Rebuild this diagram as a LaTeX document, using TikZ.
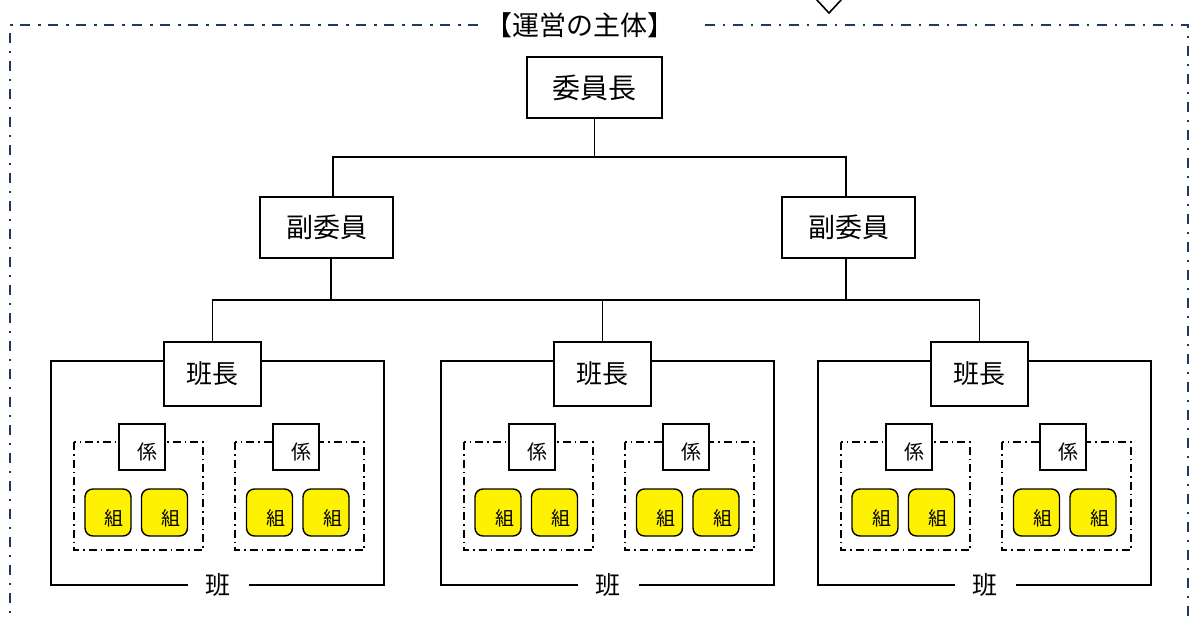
\documentclass[tikz,border=0pt]{standalone}
\usepackage{fontspec}
\newfontfamily\jp{Noto Sans CJK JP}
\definecolor{navy}{RGB}{31,56,100}
\begin{document}
\begin{tikzpicture}[x=1pt,y=-1pt,
  every node/.style={font=\jp, inner sep=0pt},
  solidline/.style={line width=1.6pt},
  box/.style={draw, line width=1.6pt, fill=white, inner sep=0pt},
  bigtext/.style={font=\jp\fontsize{27}{32}\selectfont},
  outerframe/.style={draw=navy, line width=2.8pt, dash pattern=on 10pt off 7.5pt on 2.5pt off 8pt},
  innerframe/.style={draw, line width=1.4pt, dash pattern=on 8pt off 4pt on 1.5pt off 4pt},
  kumi/.style={draw, line width=1.4pt, fill=yellow, rounded corners=8pt, minimum width=46pt, minimum height=47pt, font=\jp\fontsize{19}{22}\selectfont},
  kakari/.style={box, minimum width=46pt, minimum height=46pt, font=\jp\fontsize{20}{24}\selectfont},
  ]
\useasboundingbox (0,0) rectangle (1192,619);

% outer frame
\draw[outerframe] (478,25) -- (10,25) -- (10,625);
\draw[outerframe] (705,25) -- (1188,25) -- (1188,625);
\node[bigtext] (title) at (580,25) {【運営の主体】};
\draw[solidline] (816,-1) -- (829,13) -- (842,-1);

% top of tree
\node[box, font=\jp\fontsize{28}{32}\selectfont, minimum width=135pt, minimum height=61pt] (chair) at (594.5,87.5) {委員長};
\node[box, bigtext, minimum width=133pt, minimum height=61pt] (vice1) at (326.5,227.5) {副委員};
\node[box, bigtext, minimum width=133pt, minimum height=61pt] (vice2) at (848.5,227.5) {副委員};

\coordinate (hy) at (0,157);
\coordinate (by) at (0,300);

% groups
\foreach \L/\n in {51/1,441/2,818/3}{
  \draw[solidline] (\L,361) rectangle (\L+333,585);
  \draw[innerframe] (\L+23,442) rectangle (\L+152,550);
  \draw[innerframe] (\L+184,442) rectangle (\L+313,550);
  \node[box, font=\jp\fontsize{26}{30}\selectfont, minimum width=97pt, minimum height=64pt] (lead\n) at (\L+161.5,374) {班長};
  \node[fill=white, inner xsep=18pt, inner ysep=2pt, font=\jp\fontsize{25}{30}\selectfont] (han\n) at (\L+167,585) {班};
  \node[kakari] (kakA\n) at (\L+91,447) {\hspace*{11pt}\raisebox{-5pt}[\height][\depth]{係}};
  \node[kakari] (kakB\n) at (\L+245,447) {\hspace*{11pt}\raisebox{-5pt}[\height][\depth]{係}};
  \node[kumi] (kumA\n) at (\L+57,512.5) {\hspace*{13pt}\raisebox{-5.5pt}[\height][\depth]{組}};
  \node[kumi] (kumB\n) at (\L+113.5,512.5) {\hspace*{13pt}\raisebox{-5.5pt}[\height][\depth]{組}};
  \node[kumi] (kumC\n) at (\L+218.5,512.5) {\hspace*{13pt}\raisebox{-5.5pt}[\height][\depth]{組}};
  \node[kumi] (kumD\n) at (\L+275,512.5) {\hspace*{13pt}\raisebox{-5.5pt}[\height][\depth]{組}};
}

% connectors
\draw[solidline] (chair.south) -- (chair.south |- hy);
\draw[solidline] ([xshift=6.5pt]vice1.north) |- (chair.south |- hy) -| ([xshift=-2.5pt]vice2.north);
\draw[solidline] ([xshift=4.5pt]vice1.south) -- ([xshift=4.5pt]vice1.south |- by);
\draw[solidline] ([xshift=-2.5pt]vice2.south) -- ([xshift=-2.5pt]vice2.south |- by);
\draw[solidline] (lead1.north) |- (lead3.north |- by) -- (lead3.north);
\draw[solidline] (lead2.north) -- (lead2.north |- by);
\end{tikzpicture}
\end{document}
